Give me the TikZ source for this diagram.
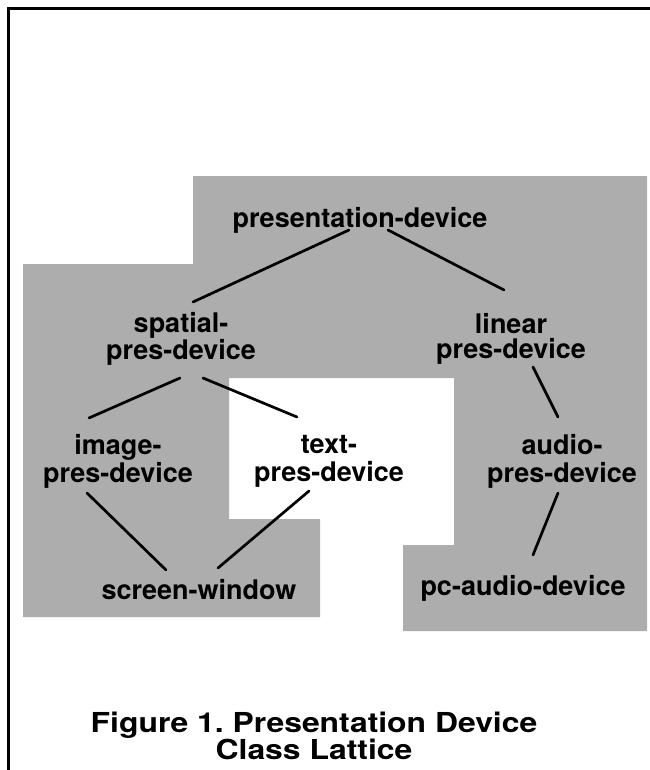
\documentclass[tikz,border=0pt]{standalone}
\usepackage{fontspec}
\setmainfont{TeX Gyre Heros}
\usetikzlibrary{calc}
\frenchspacing
\begin{document}
\begin{tikzpicture}[x=1pt,y=-1pt,
  lbl/.style={font=\fontsize{27}{25}\selectfont\bfseries, align=center, inner sep=0pt},
  lblwide/.style={lbl, font=\fontsize{27}{28}\selectfont\bfseries},
  capt/.style={font=\fontsize{27.5}{25}\selectfont\bfseries, align=center, inner sep=0pt,
               xscale=1.16, transform shape},
  link/.style={line width=2.7pt, line cap=round},
  halftone/.style={fill=black!32},
  frameline/.style={line width=3pt}]
\useasboundingbox (0,0) rectangle (649,770);
\fill[white] (0,0) rectangle (649,770);
% shaded background grouping the classes
\path[halftone] (193,176) -- (647,176) -- (647,631) -- (403,631) -- (403,545)
  -- (454,545) -- (454,378) -- (229,378) -- (229,519) -- (320,519) -- (320,617)
  -- (23,617) -- (23,264) -- (193,264) -- cycle;
% page frame
\draw[frameline] (8,775) -- (8,9) -- (655,9);
% classes
\node[lbl]     (pres)    at (360,220) {presentation-device};
\node[lbl]     (spatial) at (181,339) {spatial-\\pres-device};
\node[lbl]     (linear)  at (511,339) {linear\\pres-device};
\node[lblwide] (image)   at (118,461) {image-\\pres-device};
\node[lblwide] (text)    at (329,461) {text-\\pres-device};
\node[lblwide] (audio)   at (562,461) {audio-\\pres-device};
\node[lbl]     (screen)  at (199,590) {screen-window};
\node[lbl]     (pc)      at (523,588) {pc-audio-device};
% lattice links
\draw[link] ($(pres)+(-11,10)$) -- ($(spatial)+(12,-37)$);
\draw[link] ($(pres)+(28,10)$) -- ($(linear)+(-7,-49)$);
\draw[link] ($(spatial)+(-1,39)$) -- ($(image)+(-29,-43)$);
\draw[link] ($(spatial)+(22,39)$) -- ($(text)+(-32,-44)$);
\draw[link] ($(linear)+(22,28)$) -- ($(audio)+(-4,-44)$);
\draw[link] ($(image)+(-31,32)$) -- ($(screen)+(-33,-20)$);
\draw[link] ($(text)+(-20,30)$) -- ($(screen)+(19,-22)$);
\draw[link] ($(audio)+(-4,32)$) -- ($(pc)+(10,-33)$);
% caption
\node[capt] (caption) at (314,736) {Figure 1. Presentation Device\\Class Lattice};
\end{tikzpicture}
\end{document}
